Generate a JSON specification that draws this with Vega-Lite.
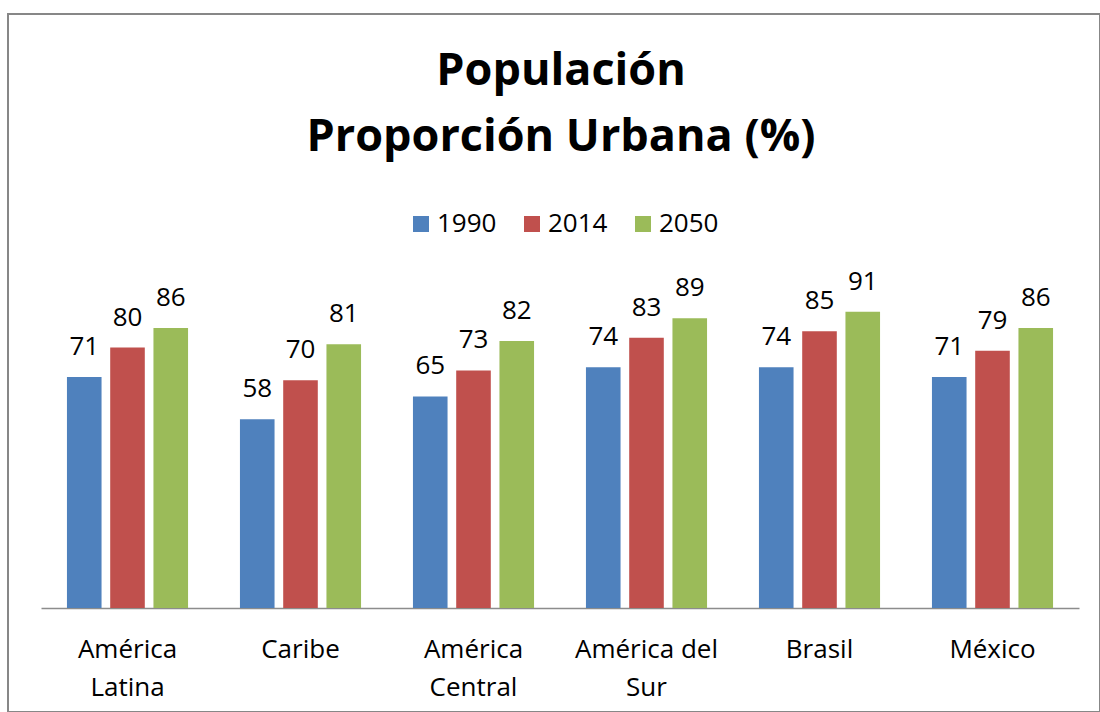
{
  "$schema": "https://vega.github.io/schema/vega-lite/v6.json",
  "autosize": {"type": "none"},
  "padding": {"left": 8, "top": 14, "right": 0, "bottom": 0},
  "width": 1092,
  "height": 698,
  "background": "white",
  "title": {
    "text": ["Populación", "Proporción Urbana (%)"],
    "font": "Open Sans",
    "fontSize": 45,
    "fontWeight": "bold",
    "color": "black",
    "lineHeight": 66,
    "anchor": "middle",
    "frame": "group",
    "baseline": "alphabetic",
    "offset": -182,
    "dx": 7
  },
  "data": {
    "values": [
      {"region": "América Latina", "year": "1990", "value": 71},
      {"region": "América Latina", "year": "2014", "value": 80},
      {"region": "América Latina", "year": "2050", "value": 86},
      {"region": "Caribe", "year": "1990", "value": 58},
      {"region": "Caribe", "year": "2014", "value": 70},
      {"region": "Caribe", "year": "2050", "value": 81},
      {"region": "América Central", "year": "1990", "value": 65},
      {"region": "América Central", "year": "2014", "value": 73},
      {"region": "América Central", "year": "2050", "value": 82},
      {"region": "América del Sur", "year": "1990", "value": 74},
      {"region": "América del Sur", "year": "2014", "value": 83},
      {"region": "América del Sur", "year": "2050", "value": 89},
      {"region": "Brasil", "year": "1990", "value": 74},
      {"region": "Brasil", "year": "2014", "value": 85},
      {"region": "Brasil", "year": "2050", "value": 91},
      {"region": "México", "year": "1990", "value": 71},
      {"region": "México", "year": "2014", "value": 79},
      {"region": "México", "year": "2050", "value": 86}
    ]
  },
  "encoding": {
    "x": {
      "field": "region",
      "type": "nominal",
      "sort": null,
      "scale": {"range": [33, 1071], "paddingInner": 0.25, "paddingOuter": 0.125},
      "axis": {
        "title": null,
        "orient": "bottom",
        "offset": -104,
        "domainColor": "#8c8c8c",
        "domainWidth": 1.5,
        "ticks": false,
        "grid": false,
        "labelFont": "Open Sans",
        "labelFontSize": 26,
        "labelColor": "black",
        "labelPadding": 28,
        "labelLineHeight": 38,
        "labelAngle": 0,
        "labelExpr": "datum.value == 'América del Sur' ? ['América del', 'Sur'] : split(datum.value, ' ')"
      }
    },
    "xOffset": {
      "field": "year",
      "type": "nominal",
      "scale": {"paddingInner": 0.2, "paddingOuter": 0.1}
    },
    "y": {
      "field": "value",
      "type": "quantitative",
      "scale": {"domain": [0, 100], "range": [594, 268.5]},
      "axis": null
    }
  },
  "layer": [
    {
      "mark": {"type": "bar"},
      "encoding": {
        "color": {
          "field": "year",
          "type": "nominal",
          "scale": {"domain": ["1990", "2014", "2050"], "range": ["#4F81BD", "#C0504D", "#9BBB59"]},
          "legend": {
            "title": null,
            "orient": "none",
            "legendX": 400,
            "legendY": 197,
            "direction": "horizontal",
            "symbolType": "square",
            "symbolSize": 256,
            "symbolStrokeWidth": 0,
            "symbolOpacity": 1,
            "labelFont": "Open Sans",
            "labelFontSize": 26,
            "labelColor": "black",
            "labelOffset": 3,
            "columnPadding": 22
          }
        }
      }
    },
    {
      "mark": {
        "type": "text",
        "dy": -22,
        "baseline": "alphabetic",
        "font": "Open Sans",
        "fontSize": 26,
        "color": "black"
      },
      "encoding": {
        "text": {"field": "value", "type": "quantitative"}
      }
    }
  ],
  "config": {
    "view": {"stroke": "#878787", "strokeWidth": 2}
  }
}
